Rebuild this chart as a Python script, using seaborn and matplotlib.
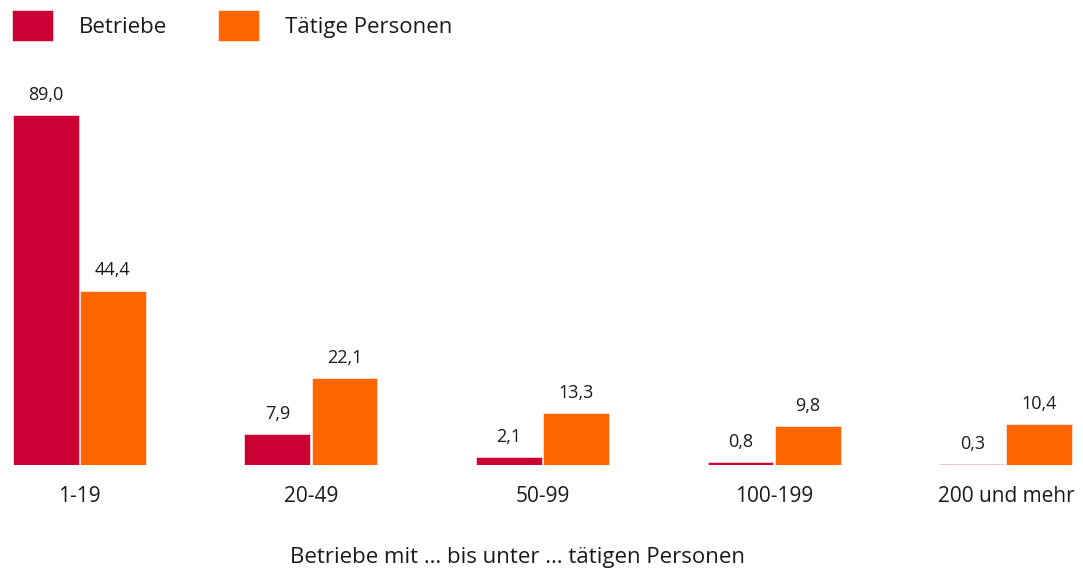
import numpy as np
import pandas as pd
import seaborn as sns
import matplotlib.pyplot as plt

categories = ["1-19", "20-49", "50-99", "100-199", "200 und mehr"]
betriebe = [89.0, 7.9, 2.1, 0.8, 0.3]
personen = [44.4, 22.1, 13.3, 9.8, 10.4]
series = ["Betriebe", "Tätige Personen"]
colors = {"Betriebe": "#CC0033", "Tätige Personen": "#FF6600"}

df = pd.DataFrame({
    "Klasse": categories * 2,
    "Wert": betriebe + personen,
    "Reihe": [series[0]] * len(categories) + [series[1]] * len(categories),
})

sns.set_style("white")
plt.rcParams["font.family"] = ["Open Sans", "DejaVu Sans"]

fig = plt.figure(figsize=(10.83, 5.75), dpi=100)
ax = fig.add_axes([12/1083, 110/575, 1061/1083, 393/575])

sns.barplot(data=df, x="Klasse", y="Wert", hue="Reihe", palette=colors,
            width=0.58, gap=0.02, saturation=1, ax=ax, order=categories,
            linewidth=0.4)

ax.set_ylim(0, 100)
ax.set_xlim(-0.29, 4.29)
for c in ax.containers:
    labs = ["{:.1f}".format(v).replace(".", ",") for v in c.datavalues]
    ax.bar_label(c, labels=labs, padding=8, fontsize=13, color="#1a1a1a")

ax.set_yticks([])
ax.set_ylabel("")
ax.set_xlabel("")
ax.tick_params(axis="x", length=0, pad=15, labelsize=15, labelcolor="#1a1a1a")
sns.despine(ax=ax, left=True, bottom=True)

sns.move_legend(ax, loc="upper left", bbox_to_anchor=(12/1083, 1 - 10/575),
                bbox_transform=fig.transFigure, ncol=2, frameon=False, title=None,
                fontsize=16, handlelength=1.85, handleheight=1.8,
                handletextpad=1.15, columnspacing=2.3, borderpad=0, borderaxespad=0)
for t in ax.get_legend().get_texts():
    t.set_color("#1a1a1a")

fig.text(517/1083, 1 - 558/575, "Betriebe mit … bis unter … tätigen Personen",
         ha="center", va="center", fontsize=16, color="#1a1a1a")

fig.savefig("out.png", dpi=100)
